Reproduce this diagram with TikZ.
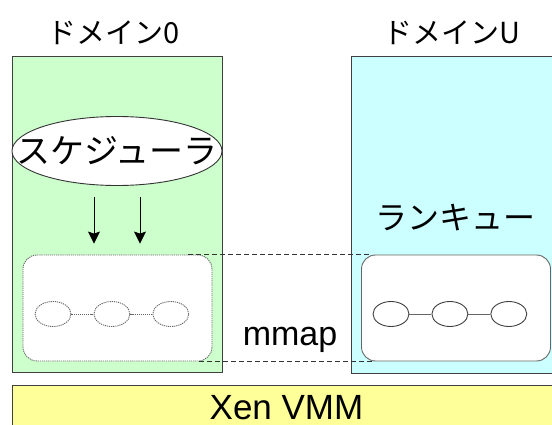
\documentclass[tikz,border=0pt]{standalone}
\usepackage{fontspec}
\setmainfont{Liberation Sans}
\newfontfamily\jpfont{Noto Sans CJK JP}
\usepackage{xcolor}
\usepackage{tikz}
\usetikzlibrary{positioning,%
  arrows.meta,%
  shapes.geometric,%
  calc
}

\definecolor{domgreen}{HTML}{CCFFCC}
\definecolor{domcyan}{HTML}{CCFFFF}
\definecolor{vmmyellow}{HTML}{FFFF99}

\begin{document}
\begin{tikzpicture}[x=1pt,y=-1pt,
    dombox/.style={draw=black!75, line width=1pt, minimum width=210pt, minimum height=316pt, inner sep=0pt},
    domtitle/.style={font=\jpfont\fontsize{29}{31}\selectfont, inner sep=0pt},
    queuebox/.style={rounded corners=14pt, fill=white, minimum width=189pt, minimum height=106pt, inner sep=0pt, line width=0.9pt},
    elem/.style={ellipse, minimum width=36pt, minimum height=25pt, inner sep=0pt, line width=0.9pt},
    faint/.style={draw=black!60, dash pattern=on 1.2pt off 0.9pt},
    arr/.style={-{Stealth[length=12pt,width=12pt,inset=2pt]}, line width=0.9pt},
    mapline/.style={dash pattern=on 5pt off 3pt, line width=0.8pt, black!80}]
    \useasboundingbox (0,0) rectangle (552,425);
    \clip (0,0) rectangle (552,425);

    \node[dombox, fill=domgreen] (dom0) at (117,214.5) {};
    \node[dombox, fill=domcyan] (domU) at (456.5,215) {};
    \node[draw=black!75, line width=1pt, fill=vmmyellow, minimum width=549pt, minimum height=46pt, inner sep=0pt,
      font=\fontsize{35}{38}\selectfont] (vmm) at (286.5,408) {Xen VMM};

    \node[domtitle] (t0) at (114,33) {ドメイン0};
    \node[domtitle] (tU) at (452,33) {ドメインU};

    \node[ellipse, draw=black!80, fill=white, line width=0.9pt, minimum width=210pt, minimum height=69pt,
      inner xsep=-28pt, inner ysep=-10pt, font=\jpfont\fontsize{34}{36}\selectfont] (sched) at (117,151) {スケジューラ};

    \node[queuebox, faint] (q0) at (117.5,308) {};
    \node[queuebox, draw=black!60] (qU) at (456,308) {};
    \node[font=\jpfont\fontsize{32}{34}\selectfont, inner sep=0pt] (rq) at (455,218) {ランキュー};

    \node[elem, faint] (a1) at (53,314) {};
    \node[elem, faint, right=22pt of a1] (a2) {};
    \node[elem, faint, right=22pt of a2] (a3) {};
    \draw[faint] (a1) -- (a2) (a2) -- (a3);

    \node[elem, draw=black!75] (b1) at (391,314) {};
    \node[elem, draw=black!75, right=22pt of b1] (b2) {};
    \node[elem, draw=black!75, right=22pt of b2] (b3) {};
    \draw[black!60, line width=0.9pt] (b1) -- (b2) (b2) -- (b3);

    \draw[arr, shorten <=11pt, shorten >=11pt] ([xshift=-23pt]sched.south) -- ([xshift=-23pt]sched.south |- q0.north);
    \draw[arr, shorten <=11pt, shorten >=11pt] ([xshift=23pt]sched.south) -- ([xshift=23pt]sched.south |- q0.north);

    \draw[mapline] ([xshift=-24pt]q0.north east) -- ([xshift=9pt]qU.north west);
    \draw[mapline] ([xshift=-13pt]q0.south east) -- ([xshift=14pt]qU.south west);
    \node[font=\fontsize{34}{36}\selectfont, inner sep=0pt, anchor=base] (mm) at (290,345) {mmap};
\end{tikzpicture}
\end{document}
